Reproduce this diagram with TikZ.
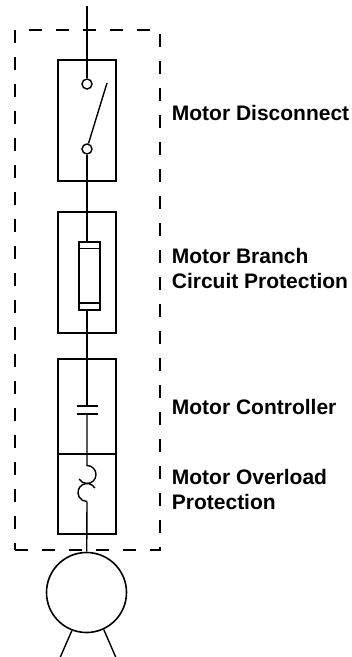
\documentclass[tikz,border=0pt]{standalone}
\usepackage{fontspec}
\setmainfont{Liberation Sans}

\begin{document}
\begin{tikzpicture}[x=0.5pt,y=-0.5pt,
        wire/.style={line width=0.7pt},
        unit/.style={draw,line width=1pt,minimum width=29pt,inner sep=0pt},
        contact/.style={draw,circle,line width=0.7pt,minimum size=5pt,inner sep=0pt},
        plate/.style={line width=0.85pt},
        desc/.style={anchor=west,align=left,inner sep=0pt,font=\fontsize{10.5pt}{12.5pt}\selectfont\bfseries}]
    \useasboundingbox (0,0) rectangle (352,657);

    \node[draw,line width=1pt,dash pattern=on 6.5pt off 7pt,minimum width=72.5pt,minimum height=260pt] (Enclosure) at (87.5,290) {};

    \node[unit,minimum height=60.5pt] (Disconnect) at (87,120.5) {};
    \node[unit,minimum height=60.5pt] (Branch) at (87,272.5) {};
    \node[unit,minimum height=47.5pt] (Controller) at (87,406.5) {};
    \node[unit,minimum height=40pt] (Overload) at (87,494) {};

    \node[desc] (DisconnectText) at (171.5,113) {Motor Disconnect};
    \node[desc] (BranchText) at (171.5,268.5) {Motor Branch\\Circuit Protection};
    \node[desc] (ControllerText) at (171.5,406.5) {Motor Controller};
    \node[desc] (OverloadText) at (171.5,489.5) {Motor Overload\\Protection};

    % disconnect switch
    \coordinate (Supply) at (87,6);
    \node[contact] (Upper) at (87,84) {};
    \node[contact] (Lower) at (87,149) {};
    \coordinate (BladeTip) at (107,83);
    \draw[wire] (Supply) -- (Upper);
    \draw[wire] (Lower.75) -- (BladeTip);

    % fuse
    \node[draw,line width=0.75pt,minimum width=10.5pt,minimum height=34pt,inner sep=0pt] (Fuse) at (89.5,276) {};
    \draw[line width=0.75pt] ([yshift=-3.6pt]Fuse.north west) -- ([yshift=-3.6pt]Fuse.north east);
    \draw[line width=0.75pt] ([yshift=3.8pt]Fuse.south west) -- ([yshift=3.8pt]Fuse.south east);
    \draw[wire] (Lower) -- (Lower |- Fuse.north);

    % contactor
    \coordinate (PlateA) at (87,406);
    \coordinate (PlateB) at (87,414);
    \draw[plate] ([xshift=-5.25pt]PlateA) -- ([xshift=5.25pt]PlateA);
    \draw[plate] ([xshift=-5.25pt]PlateB) -- ([xshift=5.25pt]PlateB);
    \draw[wire] (Lower |- Fuse.south) -- (PlateA);

    % overload heater
    \coordinate (HeaterTop) at (87,465.5);
    \coordinate (HeaterMid) at (94.8,488);
    \draw[wire] (PlateB) -- (HeaterTop) arc[start angle=90,end angle=-150,radius=4.5pt];
    \draw[wire] (HeaterMid) arc[start angle=30,end angle=270,radius=4.5pt] coordinate (HeaterEnd);

    % motor
    \node[draw,circle,line width=0.8pt,minimum size=40pt,inner sep=0pt] (Motor) at (86.5,592.5) {};
    \coordinate (LegL) at (59,660);
    \coordinate (LegR) at (117,660);
    \draw[wire] (HeaterEnd) -- (Motor);
    \draw[wire] (Motor.249) -- (LegL);
    \draw[wire] (Motor.295) -- (LegR);
\end{tikzpicture}
\end{document}
